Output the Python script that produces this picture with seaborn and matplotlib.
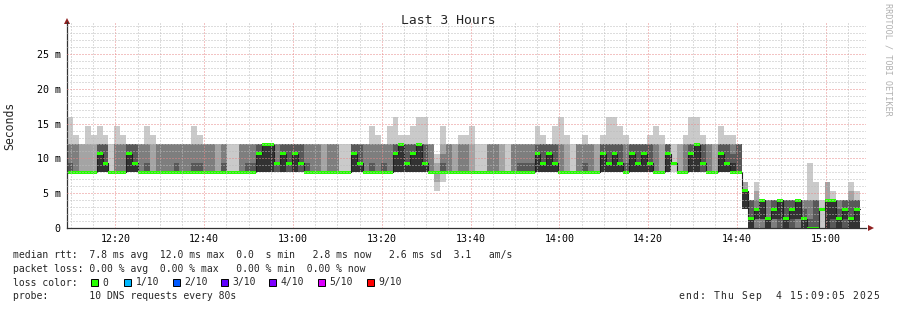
import numpy as np
import pandas as pd
import matplotlib
matplotlib.use("Agg")
import matplotlib.pyplot as plt
import matplotlib.dates as mdates
from matplotlib.ticker import MultipleLocator
from matplotlib.patches import Rectangle
import seaborn as sns

# ---------------- data ----------------
START = "2025-09-04 12:09:05"
END = "2025-09-04 15:09:05"
STEP = "80s"
LEVEL_MS = 4.0 / 3.0          # DNS timer resolution: values below are in these units

# median rtt per 80 s step (in LEVEL_MS units)
MEDIAN = [
    6, 6, 6, 6, 6, 8, 7, 6, 6, 6,
    8, 7, 6, 6, 6, 6, 6, 6, 6, 6,
    6, 6, 6, 6, 6, 6, 6, 6, 6, 6,
    6, 6, 8, 9, 9, 7, 8, 7, 8, 7,
    6, 6, 6, 6, 6, 6, 6, 6, 8, 7,
    6, 6, 6, 6, 6, 8, 9, 7, 8, 9,
    7, 6, 6, 6, 6, 6, 6, 6, 6, 6,
    6, 6, 6, 6, 6, 6, 6, 6, 6, 8,
    7, 8, 7, 6, 6, 6, 6, 6, 6, 6,
    8, 7, 8, 7, 6, 8, 7, 8, 7, 6,
    6, 8, 7, 6, 6, 8, 9, 7, 6, 6,
    8, 7, 6, 6, 4, 1, 2, 3, 1, 2,
    3, 1, 2, 3, 1, 0, 0, 2, 3, 3,
    1, 2, 1, 2,
]

# the 10 sorted ping times of each step (hex digits, LEVEL_MS units)
PINGS = [
    "666666799c", "666666699a", "6666666699", "666666669b", "666666669a",
    "666668999b", "666667999a", "6666666669", "666666699b", "666666699a",
    "6666689999", "6666679999", "6666666999", "666666799b", "666666669a",
    "6666666999", "6666666999", "6666666999", "6666667999", "6666666999",
    "6666666999", "666666799b", "666666799a", "6666666999", "6666666999",
    "6666666699", "6666667999", "6666666669", "6666666669", "6666666999",
    "6666667999", "6666667999", "6666689999", "6666699999", "6666699999",
    "6666777999", "6666689999", "6666779999", "6666689999", "6666779999",
    "6666667999", "6666666999", "6666666999", "6666666699", "6666666999",
    "6666666999", "6666666669", "6666666669", "6666689999", "6666679999",
    "6666666999", "666666799b", "666666699a", "6666667999", "666666699b",
    "666668999c", "666669999a", "666667999a", "666668999b", "666669999c",
    "666667999c", "6666666999", "4566666678", "566666789b", "6666666999",
    "6666666699", "666666699a", "666666699a", "666666669b", "6666666669",
    "6666666669", "6666666999", "6666666999", "6666666699", "6666666669",
    "6666666999", "6666667999", "6666667999", "6666667999", "666668999b",
    "666667999a", "6666689999", "666667999b", "666666699c", "666666669a",
    "6666666669", "6666666999", "666666799a", "6666666999", "6666666699",
    "666668999a", "666667999c", "666668999c", "666667999b", "666666799a",
    "6666689999", "6666679999", "6666689999", "666667999a", "666666699b",
    "666666669a", "6666689999", "6777777779", "6666666699", "666666699a",
    "666668999c", "666669999c", "666677999a", "6666666999", "6666666699",
    "666668999b", "666667999a", "666667899a", "6666669999", "2222244455",
    "0000013333", "0001122345", "0001133333", "0000011333", "0001123333",
    "0000133333", "0000013333", "0000123333", "0001133333", "0000012333",
    "0000001337", "0000003335", "0222222223", "0000033355", "0000133334",
    "0000012333", "0000123333", "0000013345", "0000023334",
]

SMOKE_COLORS = ["#cacaca", "#a4a4a4", "#7e7e7e", "#585858", "#323232"]
LOSS_COLORS = ["#26ff00", "#00b8ff", "#0059ff", "#5e00ff", "#7e00ff", "#dd00ff", "#ff0000"]
LOSS_LABELS = ["0", "1/10", "2/10", "3/10", "4/10", "5/10", "9/10"]
YTICKS = [0, 5, 10, 15, 20, 25]
YTICK_LABELS = ["0", "5 m", "10 m", "15 m", "20 m", "25 m"]
STAT_LINES = [
    "median rtt:  7.8 ms avg  12.0 ms max  0.0  s min   2.8 ms now   2.6 ms sd  3.1   am/s",
    "packet loss: 0.00 % avg  0.00 % max   0.00 % min  0.00 % now",
    "loss color:",
    "probe:       10 DNS requests every 80s",
]
END_TEXT = "end: Thu Sep  4 15:09:05 2025"
TITLE = "Last 3 Hours"

# ---------------- figure ----------------
W, H = 897, 310
sns.set_theme(style="white")
plt.rcParams["font.family"] = ["DejaVu Sans Mono", "DejaVu Sans"]

fig = plt.figure(figsize=(W / 100, H / 100), dpi=100)
fig.patch.set_facecolor("white")

def fx(px):
    return px / W

def fy(py):
    return 1 - py / H

L, R, T, B = 67, 866, 22, 228
ax = fig.add_axes([fx(L), fy(B), fx(R - L), (B - T) / H])
ax.set_facecolor("white")

lv = np.array([[int(c, 16) for c in s] for s in PINGS], float) * LEVEL_MS
med = np.array(MEDIAN, float) * LEVEL_MS
edges = pd.date_range(START, periods=len(MEDIAN) + 1, freq=STEP)
x = mdates.date2num(edges.to_pydatetime())
ext = np.vstack([lv, lv[-1:]])
mext = np.append(med, med[-1])

# smoke
for i, col in enumerate(SMOKE_COLORS):
    ax.fill_between(x, ext[:, i], ext[:, 9 - i], step="post", color=col,
                    lw=0, zorder=1)

# median: dark step line + loss-coloured band
df = pd.DataFrame({"t": x, "rtt": mext})
sns.lineplot(data=df, x="t", y="rtt", drawstyle="steps-post", color="#202020",
             lw=0.8, ax=ax, zorder=1.5)
SW = 1.5 / 6.96
ax.fill_between(x, mext - SW, mext + SW, step="post", color=LOSS_COLORS[0],
                lw=0, zorder=1.8)

t0 = mdates.date2num(pd.Timestamp(START).to_pydatetime())
t1 = mdates.date2num(pd.Timestamp(END).to_pydatetime())
ax.set_xlim(t0, t1)
ax.set_ylim(0, 29.6)
ax.set_xlabel("")
ax.set_ylabel("")

ax.xaxis.set_major_locator(mdates.MinuteLocator(byminute=[0, 20, 40]))
ax.xaxis.set_minor_locator(mdates.MinuteLocator(byminute=range(0, 60, 5)))
ax.xaxis.set_major_formatter(mdates.DateFormatter("%H:%M"))
ax.set_yticks(YTICKS)
ax.set_yticklabels(YTICK_LABELS)
ax.yaxis.set_minor_locator(MultipleLocator(1))

ax.set_axisbelow(False)
ax.grid(which="major", color="#e88888", lw=0.72, ls=(0, (1, 2)))
ax.grid(which="minor", color="#bcbcbc", lw=0.72, ls=(0, (1, 2)))

ax.tick_params(which="both", direction="out", length=2, width=0.7,
               color="#555555", labelsize=7.2, pad=2.5, labelcolor="black")
for s in ["top", "right"]:
    ax.spines[s].set_visible(False)
for s in ["left", "bottom"]:
    ax.spines[s].set_color("#333333")
    ax.spines[s].set_linewidth(0.9)

ARROW = "#902020"
ax.plot([0], [1.005], marker="^", ms=4.5, mew=0, color=ARROW,
        transform=ax.transAxes, clip_on=False)
ax.plot([1.006], [0], marker=">", ms=4.5, mew=0, color=ARROW,
        transform=ax.transAxes, clip_on=False)

# texts
fig.text(fx(448), fy(20), TITLE, ha="center", va="center", fontsize=9.4)
fig.text(fx(10), fy(126), "Seconds", rotation=90, ha="center", va="center",
         fontsize=8.3)
fig.text(fx(888), fy(59), "RRDTOOL / TOBI OETIKER", rotation=270, ha="center",
         va="center", fontsize=6.1, color="#b0b0b0")

FS = 7.0
LINE_Y = [255, 268.5, 282.5, 296]
for txt, yy in zip(STAT_LINES, LINE_Y):
    fig.text(fx(13.3), fy(yy), txt, ha="left", va="center", fontsize=FS)

SQ_X = [91, 124, 173, 221, 269, 318, 367]
for sx, col, lab in zip(SQ_X, LOSS_COLORS, LOSS_LABELS):
    fig.add_artist(Rectangle((fx(sx), fy(LINE_Y[2] + 3.5)), fx(7), 7 / H,
                             transform=fig.transFigure, facecolor=col,
                             edgecolor="black", lw=0.7))
    fig.text(fx(sx + 11.5), fy(LINE_Y[2]), lab, ha="left", va="center",
             fontsize=FS)

# "end:" line is spread across x = 678 .. 879 in the reference
pitch = (879.5 - 678.0) / len(END_TEXT)
for i, ch in enumerate(END_TEXT):
    if ch != " ":
        fig.text(fx(678.0 + (i + 0.5) * pitch), fy(LINE_Y[3]), ch,
                 ha="center", va="center", fontsize=FS)

fig.savefig("out.png", dpi=100, facecolor="white")
